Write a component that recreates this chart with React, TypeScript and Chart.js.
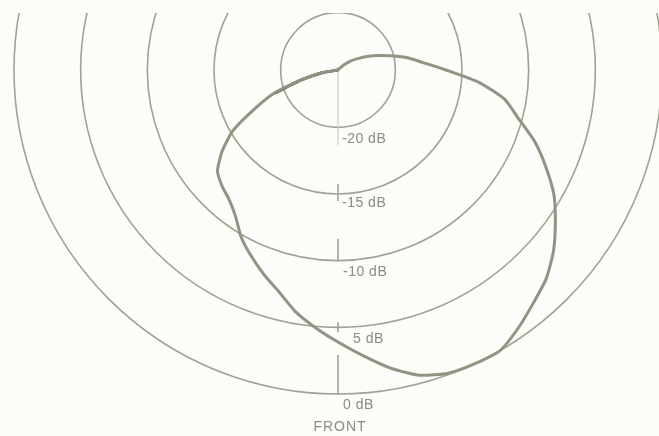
import React, { useEffect, useRef } from "react";
import { Chart, registerables } from "chart.js";

Chart.register(...registerables);

// Angle around the microphone, degrees from FRONT (clockwise on screen)
const angleLabels: string[] = [
  "0", "5", "10", "15", "20", "25", "30", "35", "40", "45", "50", "55",
  "60", "65", "70", "75", "80", "85", "90", "95", "100", "105", "110", "115",
  "120", "125", "130", "135", "140", "145", "150", "155", "160", "165", "170", "175",
  "180", "185", "190", "195", "200", "205", "210", "215", "220", "225", "230", "235",
  "240", "245", "250", "255", "260", "265", "270", "275", "280", "285", "290", "295",
  "300", "305", "310", "315", "320", "325", "330", "335", "340", "345", "350", "355",
];

// Response in dB (values at the plot floor are shown as -24.3, the chart centre)
const responseDb: number[] = [
  -3.9, -4.9, -5.9, -7.1, -8.0, -8.9, -9.8, -10.9, -11.6, -12.0, -12.5, -13.7,
  -15.2, -17.4, -19.2, -21.5, -23.1, -24.3, -24.3, -24.3, -24.3, -24.3, -24.3, -24.3,
  -24.3, -24.3, -24.3, -24.3, -24.3, -24.3, -24.3, -24.3, -24.3, -24.3, -24.3, -24.3,
  -24.3, -24.3, -24.3, -24.3, -24.3, -24.3, -24.3, -24.3, -24.3, -24.1, -23.6, -23.1,
  -22.6, -21.9, -21.1, -20.2, -19.0, -17.9, -16.2, -13.7, -11.6, -10.3, -8.6, -7.1,
  -5.6, -4.4, -3.2, -2.2, -1.5, -0.7, 0, 0, -0.1, -0.6, -1.6, -2.8,
];

// the stretch of the trace that is printed darker in the original
const darkFrom = 14;
const darkTo = 17;

const ringValues: number[] = [-20, -15, -10, -5, 0];
const ringLabels: string[] = ["-20 dB", "-15 dB", "-10 dB", "5 dB", "0 dB"];
const axisTitle = "FRONT";

const SCALE_MIN = -24.3;
const SCALE_MAX = 0;

const BG = "#fcfcf8";
const RING = "#a2a196";
const CURVE = "#939283";
const DARK = "#35352f";
const TEXT = "#8c8b80";

// styling of the little vertical marks and labels (pixels)
const markAbove = [60, 10, 22, 5, 39];
const markBelow = [18, 7, 0, 5, 1];
const labelDx = [4, 4, 5, 15, 5];
const labelDy = [12, 9, 11, 12, 11];

const overlayPlugin = {
  id: "polarOverlay",
  beforeDatasetsDraw(chart: any) {
    const s = chart.scales.r;
    const ctx = chart.ctx as CanvasRenderingContext2D;
    const cx = s.xCenter;
    const cy = s.yCenter;
    ctx.save();
    ctx.lineCap = "butt";
    ringValues.forEach((v, i) => {
      const d = s.getDistanceFromCenterForValue(v);
      ctx.strokeStyle = i === 0 ? "#cfcfc6" : RING;
      ctx.lineWidth = i === 0 ? 1.2 : 1.6;
      ctx.beginPath();
      ctx.moveTo(cx, cy + d - markAbove[i]);
      ctx.lineTo(cx, cy + d + markBelow[i]);
      ctx.stroke();
    });
    ctx.fillStyle = TEXT;
    ctx.font = "14px 'Liberation Sans', Arial, sans-serif";
    (ctx as any).letterSpacing = "0.5px";
    ctx.textBaseline = "middle";
    ctx.textAlign = "left";
    ringValues.forEach((v, i) => {
      const d = s.getDistanceFromCenterForValue(v);
      ctx.fillText(ringLabels[i], cx + labelDx[i], cy + d + labelDy[i]);
    });
    ctx.textAlign = "center";
    (ctx as any).letterSpacing = "1px";
    ctx.fillText(axisTitle, cx + 2, cy + s.drawingArea + 33);
    ctx.restore();
  },
};

export default function App() {
  const ref = useRef<HTMLCanvasElement>(null);
  useEffect(() => {
    const darkDb = responseDb.map((v, i) => (i >= darkFrom && i <= darkTo ? v : null));
    const chart = new Chart(ref.current as HTMLCanvasElement, {
      type: "radar",
      data: {
        labels: angleLabels,
        datasets: [
          {
            data: responseDb,
            borderColor: CURVE,
            borderWidth: 3,
            backgroundColor: "rgba(0,0,0,0)",
            fill: false,
            pointRadius: 0,
            pointHoverRadius: 0,
            tension: 0.2,
          } as any,
          {
            data: darkDb,
            borderColor: DARK,
            borderWidth: 3,
            backgroundColor: "rgba(0,0,0,0)",
            fill: false,
            pointRadius: 0,
            pointHoverRadius: 0,
            tension: 0.2,
            spanGaps: false,
          } as any,
        ],
      },
      options: {
        animation: false,
        responsive: false,
        devicePixelRatio: 1,
        layout: { padding: { left: 14, right: 14, top: 42, bottom: 42 } },
        plugins: { legend: { display: false }, tooltip: { enabled: false } },
        scales: {
          r: {
            min: SCALE_MIN,
            max: SCALE_MAX,
            startAngle: 180,
            afterBuildTicks: (s: any) => {
              s.ticks = ringValues.map((v) => ({ value: v }));
            },
            ticks: { display: false },
            pointLabels: { display: false },
            angleLines: { display: false },
            grid: { circular: true, color: RING, lineWidth: 1.6 },
          } as any,
        },
      },
      plugins: [overlayPlugin],
    });
    return () => chart.destroy();
  }, []);

  return (
    <div
      style={{
        position: "fixed",
        left: 0,
        top: 0,
        width: 659,
        height: 436,
        background: BG,
        overflow: "hidden",
      }}
    >
      <div
        style={{
          position: "absolute",
          left: 0,
          top: 13,
          width: 659,
          height: 423,
          overflow: "hidden",
        }}
      >
        <canvas
          ref={ref}
          width={676}
          height={732}
          style={{ position: "absolute", left: 0, top: -309, width: 676, height: 732 }}
        />
      </div>
    </div>
  );
}
